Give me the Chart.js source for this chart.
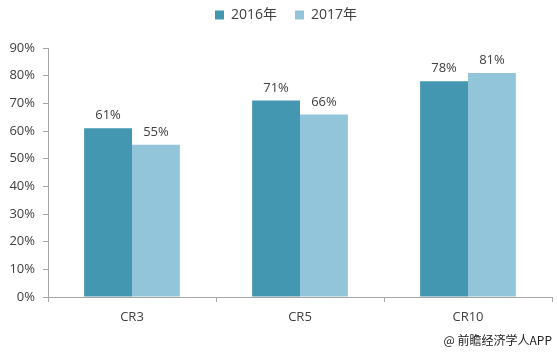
<!DOCTYPE html>
<html>
<head>
<meta charset="utf-8">
<script src="https://cdn.jsdelivr.net/npm/chart.js@4/dist/chart.umd.min.js"></script>
<style>
  html, body { margin: 0; padding: 0; background: #fff; }
  #wrap { position: relative; width: 557px; height: 353px; }
  #note { position: absolute; right: 5px; bottom: 5px; font: 12px "Noto Sans CJK SC", sans-serif; color: #222; }
</style>
</head>
<body>
<div id="wrap">
  <canvas id="chart" width="557" height="353"></canvas>
  <div id="note">@ 前瞻经济学人APP</div>
</div>
<script>
// Kategorier og verdier
const categories = ["CR3", "CR5", "CR10"];
const seriesNames = ["2016年", "2017年"];
const values2016 = [61, 71, 78];
const values2017 = [55, 66, 81];
const yTicks = [0, 10, 20, 30, 40, 50, 60, 70, 80, 90];

const FONT = '"Open Sans", "Noto Sans CJK SC", sans-serif';
const TXT = "#404040";

// Tallene over stolpene
const barLabels = {
  id: "barLabels",
  afterDatasetsDraw(chart) {
    const ctx = chart.ctx;
    ctx.save();
    ctx.font = "13px " + FONT;
    ctx.fillStyle = TXT;
    ctx.textAlign = "center";
    ctx.textBaseline = "bottom";
    chart.data.datasets.forEach((ds, i) => {
      chart.getDatasetMeta(i).data.forEach((bar, j) => {
        ctx.fillText(ds.data[j] + "%", bar.x, bar.y - 6);
      });
    });
    ctx.restore();
  }
};

// Fast høyde på legenden, litt forskjøvet mot høyre
const legendSpace = {
  id: "legendSpace",
  beforeInit(chart) {
    const fit = chart.legend.fit;
    chart.legend.fit = function () {
      fit.call(this);
      this.height = 58;
    };
  },
  afterLayout(chart) {
    chart.legend.left += 20;
  }
};

const ctx = document.getElementById("chart").getContext("2d");
new Chart(ctx, {
  type: "bar",
  data: {
    labels: categories,
    datasets: [
      {
        label: seriesNames[0],
        data: values2016,
        backgroundColor: "#4397b0"
      },
      {
        label: seriesNames[1],
        data: values2017,
        backgroundColor: "#92c4da"
      }
    ]
  },
  options: {
    responsive: false,
    animation: false,
    layout: { padding: { left: 0, right: 5, top: -10, bottom: 0 } },
    plugins: {
      legend: {
        position: "top",
        labels: {
          boxWidth: 9,
          boxHeight: 9,
          color: TXT,
          font: { size: 14, family: FONT },
          padding: 18
        }
      },
      tooltip: { enabled: false }
    },
    datasets: {
      bar: { categoryPercentage: 0.57, barPercentage: 1.0 }
    },
    scales: {
      x: {
        grid: {
          offset: true,
          drawOnChartArea: false,
          drawTicks: true,
          tickLength: 5,
          color: "#a6a6a6"
        },
        border: { color: "#a6a6a6" },
        ticks: {
          color: TXT,
          font: { size: 13, family: FONT },
          padding: 7
        },
        afterFit(scale) { scale.height = 56; }
      },
      y: {
        min: 0,
        max: 90,
        afterBuildTicks(scale) {
          scale.ticks = yTicks.map(v => ({ value: v }));
        },
        grid: {
          drawOnChartArea: false,
          drawTicks: true,
          tickLength: 5,
          color: "#a6a6a6"
        },
        border: { color: "#a6a6a6" },
        ticks: {
          color: TXT,
          font: { size: 13, family: FONT },
          padding: 8,
          callback: v => v + "%"
        },
        afterFit(scale) { scale.width = 48; }
      }
    }
  },
  plugins: [barLabels, legendSpace]
});
</script>
</body>
</html>
